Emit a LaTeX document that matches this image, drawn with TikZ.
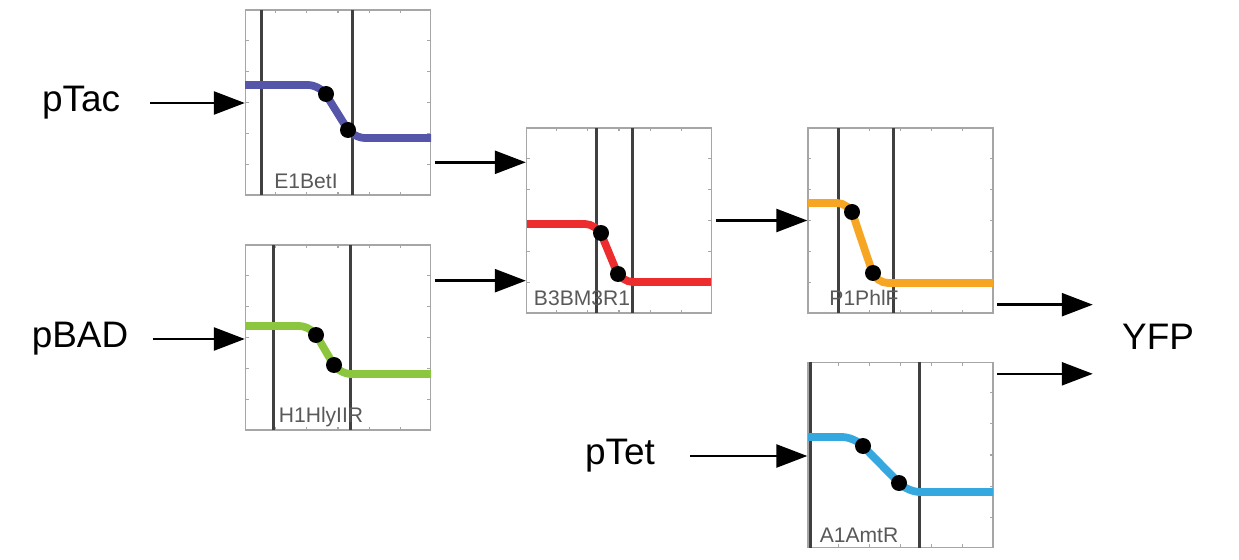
\documentclass[tikz,border=0pt]{standalone}
\usepackage{fontspec}
\setmainfont{Liberation Sans}
\usetikzlibrary{arrows.meta,calc}
\definecolor{betiblue}{RGB}{85,85,170}
\definecolor{hlygreen}{RGB}{140,198,63}
\definecolor{bmred}{RGB}{237,45,45}
\definecolor{phlorange}{RGB}{247,166,35}
\definecolor{amtblue}{RGB}{53,168,224}
\tikzset{
  plotbox/.style={draw=black!35, line width=0.8pt, fill=white, minimum width=3.7cm, minimum height=3.7cm, inner sep=0pt},
  frametick/.style={draw=black!35, line width=0.6pt},
  guide/.style={draw=black!75, line width=0.06cm},
  curve/.style={line width=0.155cm, rounded corners=0.24cm},
  dot/.style={fill=black},
  boxlabel/.style={font=\fontsize{12}{14}\selectfont, text=black!65, inner sep=0pt},
  promoter/.style={font=\fontsize{21}{25}\selectfont, inner sep=0pt},
  arr/.style={line width=0.05cm, -{Triangle[length=0.62cm, width=0.46cm]}},
}
\newcommand{\frameticks}[1]{%
  \foreach \f in {0.167,0.333,0.5,0.667,0.833} {
    \draw[frametick] ($(#1.north west)!\f!(#1.north east)$) -- ++(0,4);
    \draw[frametick] ($(#1.south west)!\f!(#1.south east)$) -- ++(0,-4);
    \draw[frametick] ($(#1.north west)!\f!(#1.south west)$) -- ++(4,0);
    \draw[frametick] ($(#1.north east)!\f!(#1.south east)$) -- ++(-4,0);
  }%
}

\begin{document}
\begin{tikzpicture}[x=0.02cm, y=-0.02cm]
\useasboundingbox (0,0) rectangle (1239,560);

% E1BetI
\node[plotbox] (betI) at (338,102.5) {};
\frameticks{betI}
\draw[guide] (261,10) -- (261,195);
\draw[guide] (352,10) -- (352,195);
\draw[curve, betiblue] (245,85) -- (320,85) -- (353,138) -- (431,138);
\fill[dot] (326,94) circle (0.16cm);
\fill[dot] (348,130) circle (0.16cm);
\node[boxlabel] (lblBetI) at (306,181) {E1BetI};

% H1HlyIIR
\node[plotbox] (hlyIIR) at (338,337.5) {};
\frameticks{hlyIIR}
\draw[guide] (273,245) -- (273,430);
\draw[guide] (350,245) -- (350,430);
\draw[curve, hlygreen] (245,326) -- (311,326) -- (339,374) -- (431,374);
\fill[dot] (316,335) circle (0.16cm);
\fill[dot] (334,365) circle (0.16cm);
\node[boxlabel] (lblHlyIIR) at (321,417) {H1HlyIIR};

% B3BM3R1
\node[plotbox] (bm3r1) at (619,220.5) {};
\frameticks{bm3r1}
\draw[guide] (596,128) -- (596,313);
\draw[guide] (632,128) -- (632,313);
\draw[curve, bmred] (527,224) -- (597,224) -- (621,282) -- (711,282);
\fill[dot] (601,233) circle (0.16cm);
\fill[dot] (618,274) circle (0.16cm);
\node[boxlabel] (lblBM3R1) at (582,298) {B3BM3R1};

% P1PhlF
\node[plotbox] (phlF) at (900.5,220.5) {};
\frameticks{phlF}
\draw[guide] (838,128) -- (838,313);
\draw[guide] (893,128) -- (893,313);
\draw[curve, phlorange] (808,203) -- (849,203) -- (876,283) -- (993,283);
\fill[dot] (852,212) circle (0.16cm);
\fill[dot] (873,273) circle (0.16cm);
\node[boxlabel] (lblPhlF) at (864,298) {P1PhlF};

% A1AmtR
\node[plotbox] (amtR) at (900.5,455) {};
\frameticks{amtR}
\draw[guide] (810,362) -- (810,548);
\draw[guide] (919,362) -- (919,548);
\draw[curve, amtblue] (808,437) -- (854,437) -- (908,492) -- (993,492);
\fill[dot] (863,446) circle (0.16cm);
\fill[dot] (899,483) circle (0.16cm);
\node[boxlabel] (lblAmtR) at (859,535) {A1AmtR};

% inputs and output
\node[promoter] (pTac) at (81,103) {pTac};
\node[promoter] (pBAD) at (80,339) {pBAD};
\node[promoter] (pTet) at (620,456) {pTet};
\node[promoter] (YFP) at (1158,337) {YFP};

\coordinate (bm3in1) at ([yshift=-0.7cm]bm3r1.north west);
\coordinate (bm3in2) at ([yshift=0.66cm]bm3r1.south west);
\coordinate (phlFout) at ([yshift=0.18cm]phlF.south east);
\coordinate (amtRout) at ([yshift=-0.24cm]amtR.north east);

\draw[arr, shorten <=0.6cm] (pTac.east) -- (pTac.east -| betI.west);
\draw[arr, shorten <=0.48cm] (pBAD.east) -- (pBAD.east -| hlyIIR.west);
\draw[arr, shorten <=0.7cm] (pTet.east) -- (pTet.east -| amtR.west);
\draw[arr, shorten <=2pt] (betI.east |- bm3in1) -- (bm3in1);
\draw[arr, shorten <=2pt] (hlyIIR.east |- bm3in2) -- (bm3in2);
\draw[arr, shorten <=2pt] (bm3r1.east) -- (phlF.west);
\draw[arr, shorten <=2pt, shorten >=0.58cm] (phlFout) -- (phlFout -| YFP.west);
\draw[arr, shorten <=2pt, shorten >=0.58cm] (amtRout) -- (amtRout -| YFP.west);
\end{tikzpicture}
\end{document}
